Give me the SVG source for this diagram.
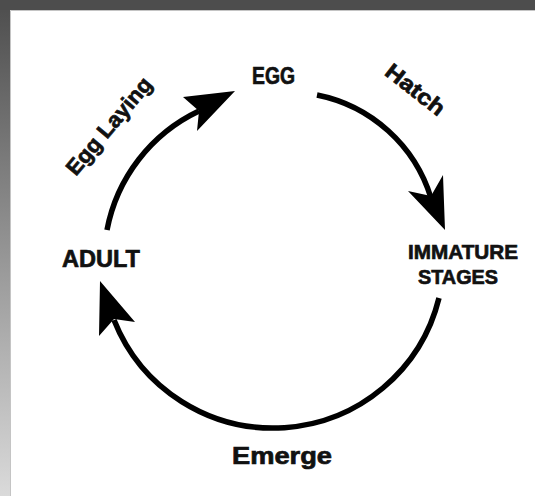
<svg xmlns="http://www.w3.org/2000/svg" width="535" height="496" viewBox="0 0 535 496">
<defs>
<linearGradient id="side" x1="0" y1="0" x2="0" y2="1">
<stop offset="0" stop-color="#4d4d4d"/>
<stop offset="1" stop-color="#dadada"/>
</linearGradient>
<style>
.lbl{font-family:"Liberation Sans",Arial,sans-serif;font-weight:bold;fill:#111;stroke:#111;stroke-width:0.7;text-anchor:middle}
.big{font-size:24px}
.mid{font-size:21px}
.sm{font-size:22px}
.arc{fill:none;stroke:#000;stroke-width:5.5;stroke-linecap:butt}
.head{fill:#000}
</style>
</defs>
<rect x="0" y="0" width="535" height="496" fill="url(#side)"/>
<rect x="0" y="0" width="535" height="10" fill="#4d4d4d"/>
<rect x="10" y="10" width="525" height="486" fill="#fff"/>
<path d="M10.5,496 V10.5 H535" fill="none" stroke="#c4c4c4" stroke-width="1"/>
<g id="connectors">
<path class="arc" d="M107,230 A166,166 0 0 1 199,111"/>
<polygon class="head" points="235,91 183,97 199,111 197,131"/>
<path class="arc" d="M317,95 A150,150 0 0 1 431,198"/>
<polygon class="head" points="445,230 408,191 431,196 443,175"/>
<path class="arc" d="M439,298 A171,171 0 0 1 114,320"/>
<polygon class="head" points="100,281 99,336 114,319 135,322"/>
</g>
<g id="egg"><text class="lbl big" x="273.5" y="84" textLength="43" lengthAdjust="spacingAndGlyphs">EGG</text></g>
<g id="immature"><text class="lbl mid" x="463" y="259" textLength="110" lengthAdjust="spacingAndGlyphs">IMMATURE</text><text class="lbl mid" x="458" y="284" textLength="80" lengthAdjust="spacingAndGlyphs">STAGES</text></g>
<g id="adult"><text class="lbl big" x="101" y="267" textLength="78" lengthAdjust="spacingAndGlyphs">ADULT</text></g>
<g id="label-hatch"><text class="lbl sm" transform="translate(415,90) rotate(38)" x="0" y="7" textLength="69" lengthAdjust="spacingAndGlyphs">Hatch</text></g>
<g id="label-emerge"><text class="lbl big" x="282" y="464" textLength="100" lengthAdjust="spacingAndGlyphs">Emerge</text></g>
<g id="label-egglaying"><text class="lbl sm" transform="translate(110,127) rotate(-50)" x="0" y="6" textLength="120" lengthAdjust="spacingAndGlyphs">Egg Laying</text></g>
</svg>
